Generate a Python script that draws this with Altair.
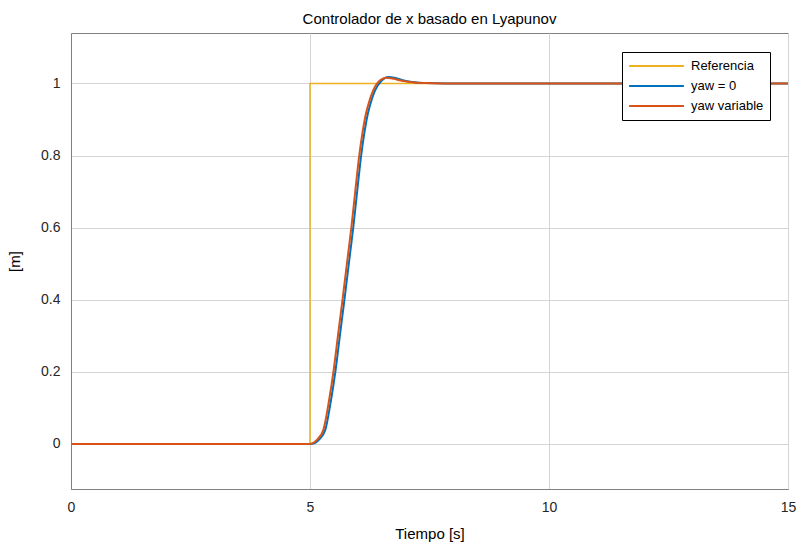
import altair as alt
import pandas as pd

# Reference step
ref_t = [0, 5.0, 5.0, 15]
ref_v = [0, 0, 1, 1]

# yaw variable (orange)
var_t = [0, 5.0, 5.06, 5.15, 5.28, 5.40, 5.49, 5.58, 5.68, 5.80, 5.865, 5.95, 6.03, 6.10, 6.17, 6.25, 6.32, 6.46, 6.6, 6.75, 6.9, 7.1, 7.4, 7.8, 8.5, 15]
var_v = [0, 0, 0.002, 0.012, 0.039, 0.122, 0.2, 0.295, 0.4, 0.53, 0.6, 0.705, 0.8, 0.865, 0.916, 0.955, 0.98, 1.008, 1.016, 1.013, 1.008, 1.004, 1.001, 1.0, 1.0, 1.0]

# yaw = 0 (blue)
zero_t = [0, 5.0, 5.09, 5.19, 5.32, 5.44, 5.53, 5.62, 5.72, 5.84, 5.905, 5.99, 6.07, 6.14, 6.21, 6.29, 6.36, 6.50, 6.64, 6.79, 6.94, 7.14, 7.44, 7.84, 8.54, 15]
zero_v = [0, 0, 0.002, 0.012, 0.039, 0.122, 0.2, 0.295, 0.4, 0.53, 0.6, 0.705, 0.8, 0.865, 0.916, 0.955, 0.98, 1.008, 1.018, 1.015, 1.009, 1.004, 1.001, 1.0, 1.0, 1.0]

names = ["Referencia", "yaw = 0", "yaw variable"]
colors = ["#EDB120", "#0072BD", "#D95319"]

rows = []
for k, (name, ts, vs) in enumerate([(names[0], ref_t, ref_v), (names[1], zero_t, zero_v), (names[2], var_t, var_v)]):
    for i, (t, v) in enumerate(zip(ts, vs)):
        rows.append({"serie": name, "t": t, "v": v, "i": i, "k": k})
df = pd.DataFrame(rows)

legend = alt.Legend(title=None, orient="none", legendX=551, legendY=19,
                    symbolType="stroke", symbolSize=3000, symbolStrokeWidth=2,
                    clipHeight=16,
                    labelFontSize=13, labelFont="Liberation Sans", labelColor="#000000",
                    strokeColor="#000000", fillColor="#ffffff", padding=6,
                    rowPadding=4, labelOffset=6)

base = alt.Chart(df).encode(
    x=alt.X("t:Q", scale=alt.Scale(domain=[0, 15], nice=False, zero=False),
            axis=alt.Axis(values=[0, 5, 10, 15], title="Tiempo [s]", format="d", labelFlush=False)),
    y=alt.Y("v:Q", scale=alt.Scale(domain=[-0.125, 1.14], nice=False, zero=False),
            axis=alt.Axis(values=[0, 0.2, 0.4, 0.6, 0.8, 1], title="[m]", format="~g", labelFlush=False)),
    color=alt.Color("serie:N", scale=alt.Scale(domain=names, range=colors), legend=legend),
    order=alt.Order("i:Q"),
    detail="k:N",
)

chart = base.transform_filter(alt.datum.k == 0).mark_line(strokeWidth=1.5, clip=True) + \
    base.transform_filter(alt.datum.k > 0).mark_line(strokeWidth=2, clip=True, interpolate="monotone")

chart = chart.properties(
    width=717, height=456,
    title=alt.TitleParams("Controlador de x basado en Lyapunov", fontSize=15, fontWeight="normal",
                          font="Liberation Sans", color="#000000", offset=6),
    padding={"left": 71, "top": 33, "right": 12, "bottom": 56},
    autosize=alt.AutoSizeParams(type="none"),
).configure_view(
    stroke="#808080", strokeWidth=1
).configure_axis(
    labelFont="Liberation Sans", labelFontSize=14, labelColor="#262626",
    titleFont="Liberation Sans", titleFontSize=15, titleFontWeight="normal", titleColor="#000000",
    gridColor="#d4d4d4", gridOpacity=1, domainColor="#808080", ticks=False,
    labelPadding=11,
).configure_axisY(titlePadding=18).configure_axisX(titlePadding=12)

chart.save("out.html", embed_options={"renderer": "svg", "actions": False})
